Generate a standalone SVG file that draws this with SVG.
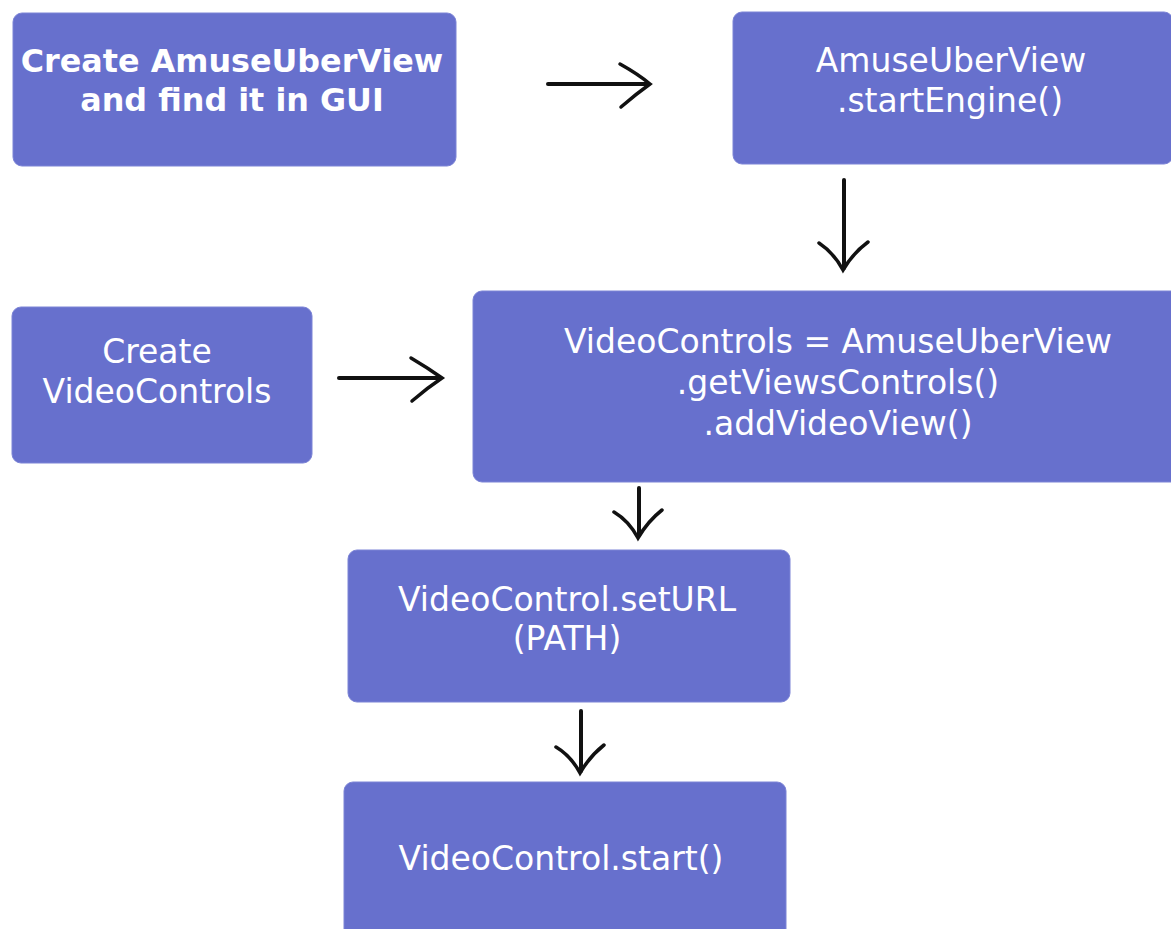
<svg xmlns="http://www.w3.org/2000/svg" width="1171" height="929" viewBox="0 0 1171 929">
<style>
.box{fill:#6770cd;stroke:#7c84d6;stroke-width:1}
.t{fill:#ffffff;font-family:"DejaVu Sans",Verdana,sans-serif;font-size:33px;text-anchor:middle}
.b{font-weight:bold;font-size:31.8px}
.arr{fill:none;stroke:#111;stroke-width:3.5;stroke-linecap:round}
.shaft{fill:none;stroke:#111;stroke-width:4;stroke-linecap:round}
</style>
<rect width="1171" height="929" fill="#ffffff"/>
<g id="n1"><rect class="box" x="13" y="13" width="443" height="153" rx="9"/><text class="t b" x="232" y="72">Create AmuseUberView</text><text class="t b" x="232" y="111">and find it in GUI</text></g>
<g id="n2"><rect class="box" x="733" y="12" width="440" height="152" rx="9"/><text class="t" x="951" y="72">AmuseUberView</text><text class="t" x="950" y="112">.startEngine()</text></g>
<g id="n3"><rect class="box" x="12" y="307" width="300" height="156" rx="9"/><text class="t" x="157" y="363">Create</text><text class="t" x="157" y="403">VideoControls</text></g>
<g id="n4"><rect class="box" x="473" y="291" width="710" height="191" rx="9"/><text class="t" x="838" y="353">VideoControls = AmuseUberView</text><text class="t" x="838" y="394">.getViewsControls()</text><text class="t" x="838" y="435">.addVideoView()</text></g>
<g id="n5"><rect class="box" x="348" y="550" width="442" height="152" rx="9"/><text class="t" x="567" y="611">VideoControl.setURL</text><text class="t" x="567" y="650">(PATH)</text></g>
<g id="n6"><rect class="box" x="344" y="782" width="442" height="160" rx="9"/><text class="t" x="561" y="870">VideoControl.start()</text></g>
<g id="connectors">
<path class="shaft" d="M548,84 L648,84"/>
<path class="arr" d="M620,64 Q638,74 650,84 Q636,94 621,107"/>
<path class="shaft" d="M844,180 L844,268"/>
<path class="arr" d="M819,243 Q834,253 843,270 Q853,253 868,242"/>
<path class="shaft" d="M339,378 L440,378"/>
<path class="arr" d="M411,358 Q428,368 442,378 Q427,388 412,401"/>
<path class="shaft" d="M639,488 L639,535"/>
<path class="arr" d="M614,512 Q629,521 638,538 Q648,521 662,510"/>
<path class="shaft" d="M581,711 L581,771"/>
<path class="arr" d="M556,747 Q571,756 580,773 Q590,756 604,745"/>
</g>
</svg>
